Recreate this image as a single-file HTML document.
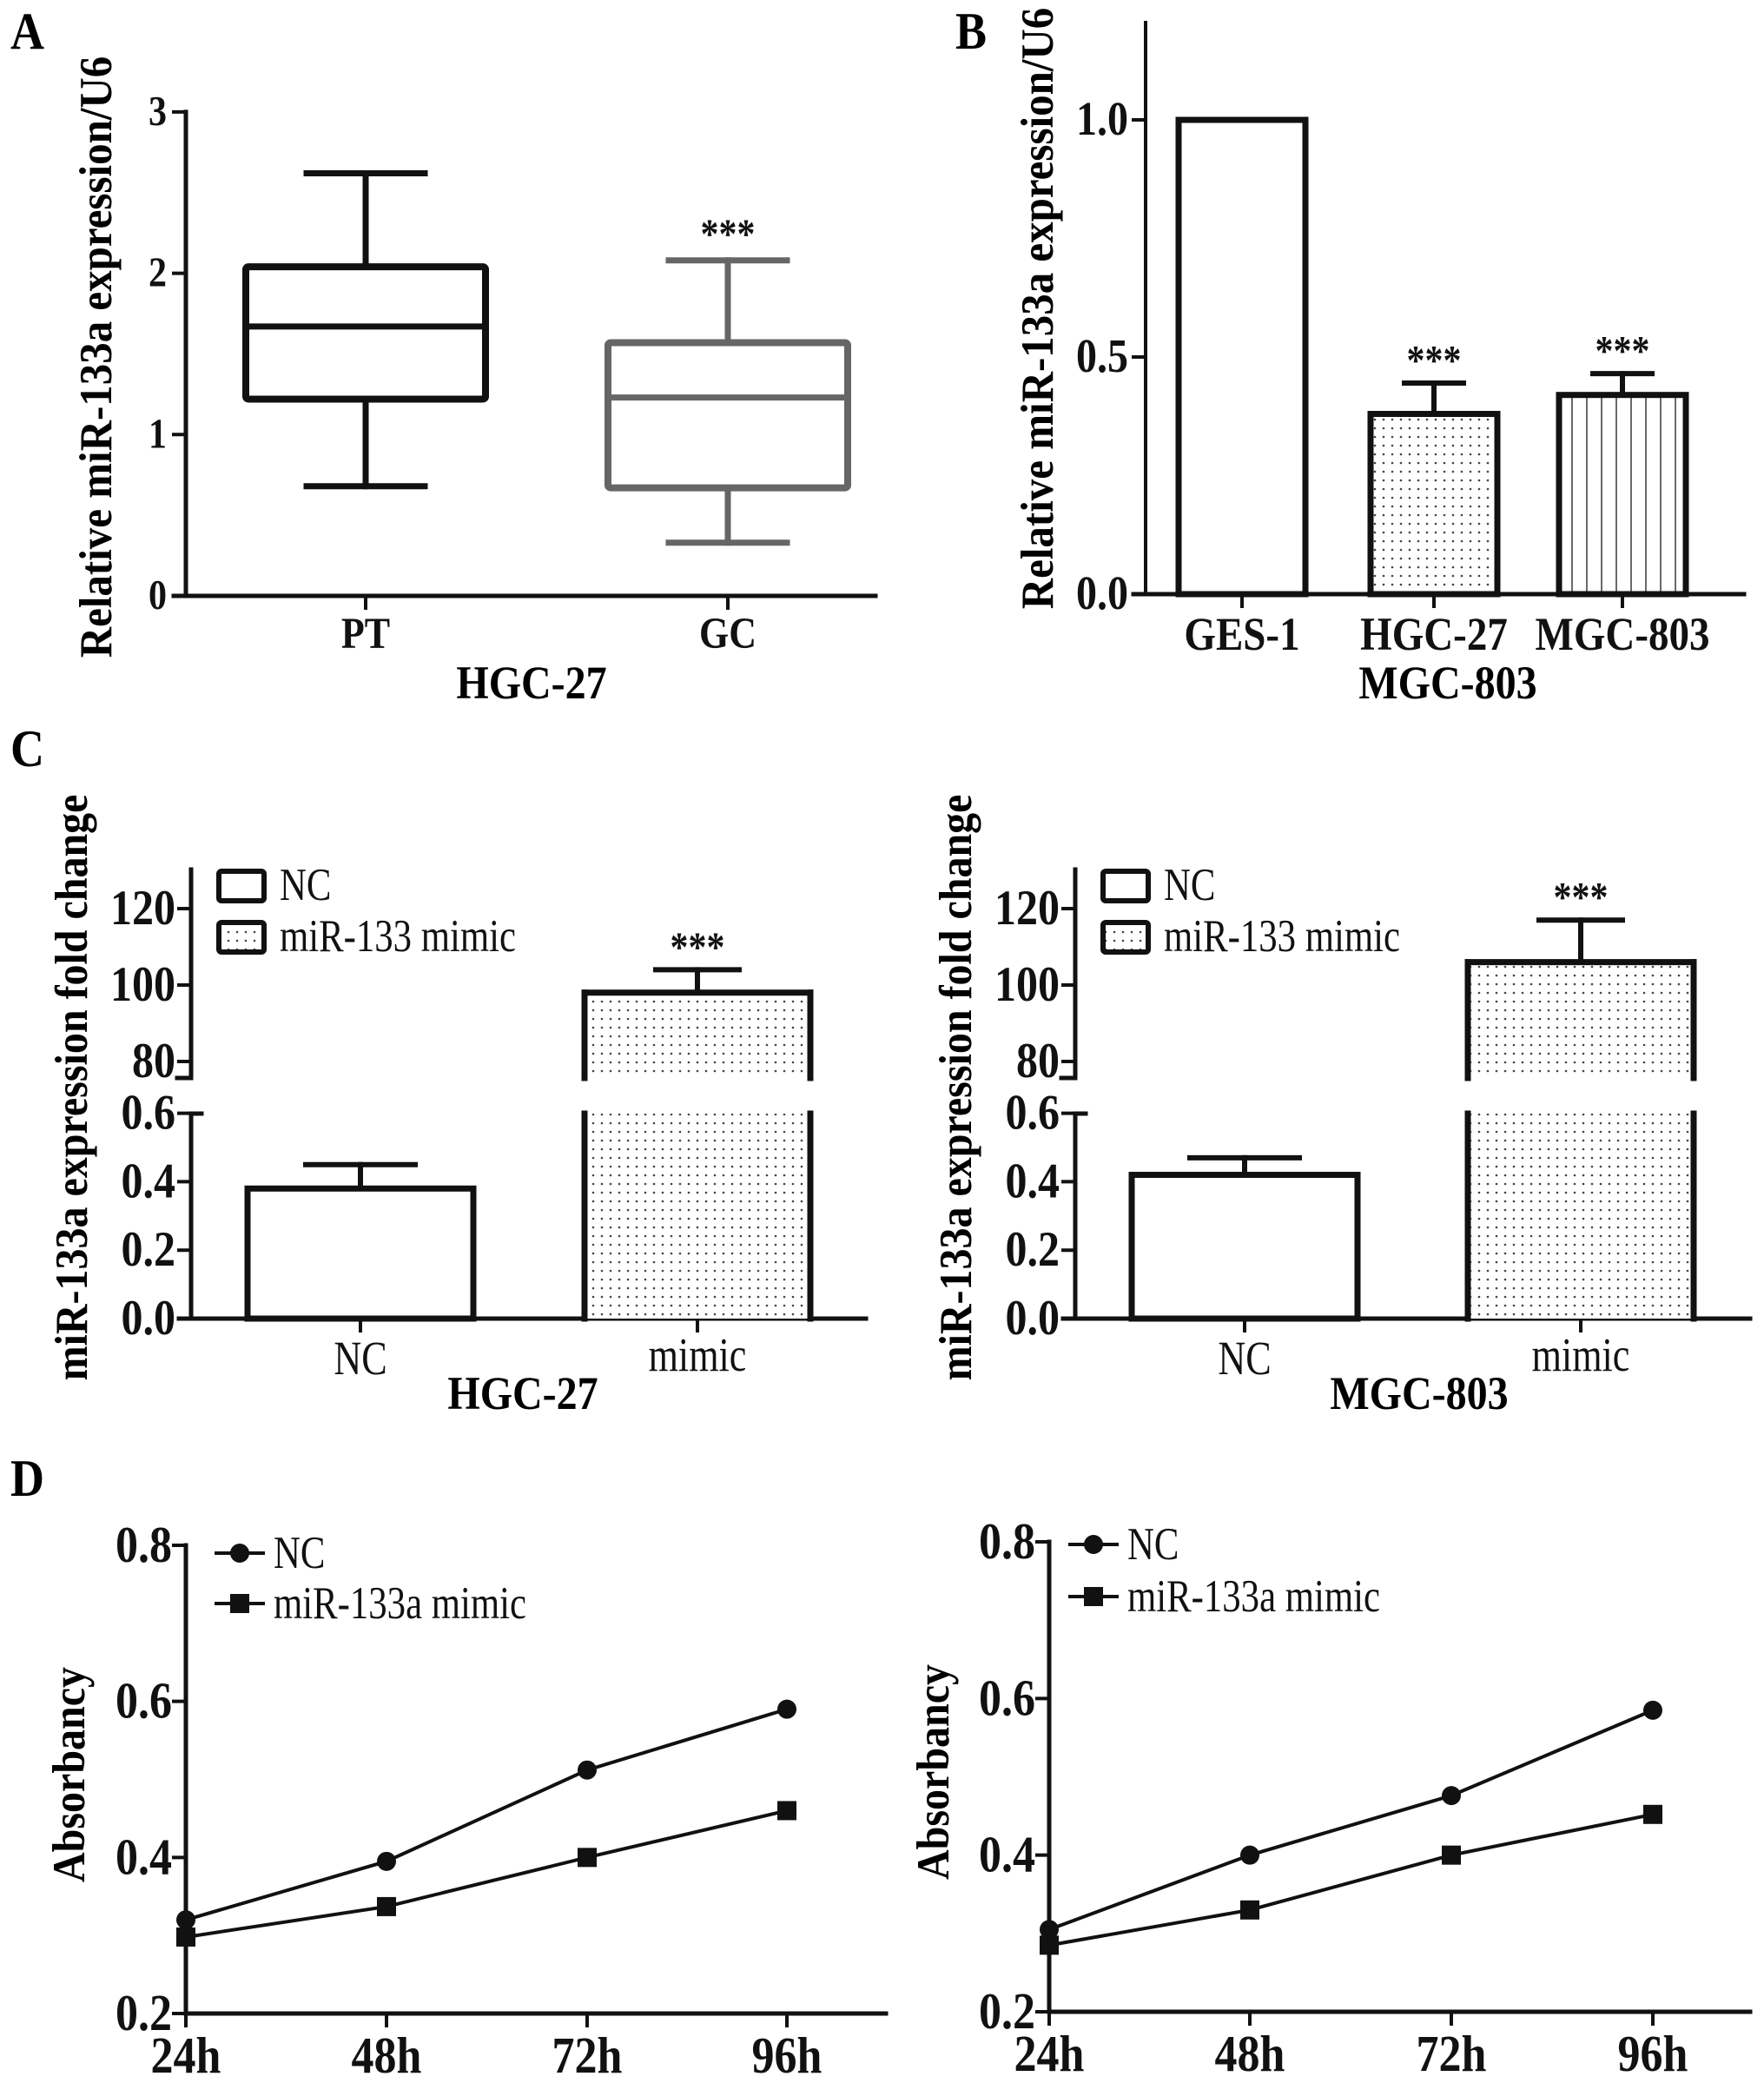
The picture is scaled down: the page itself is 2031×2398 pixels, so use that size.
<!DOCTYPE html>
<html><head><meta charset="utf-8">
<style>
html,body{margin:0;padding:0;background:#fff;}
svg{display:block;font-family:"Liberation Serif",serif;}
.b{font-weight:bold;}
</style></head>
<body>
<svg id="fig" width="2031" height="2398" viewBox="0 0 2031 2398" xmlns="http://www.w3.org/2000/svg">
<defs>
<pattern id="dots" width="10" height="10" patternUnits="userSpaceOnUse"><rect width="10" height="10" fill="#fff"/><circle cx="3" cy="3" r="1.3" fill="#444"/></pattern>
<pattern id="vlines" width="17" height="10" patternUnits="userSpaceOnUse"><rect width="17" height="10" fill="#fff"/><line x1="8" y1="0" x2="8" y2="10" stroke="#444" stroke-width="1.6"/></pattern>
</defs>
<text class="b" transform="translate(12,56) scale(1,1.12)" font-size="54">A</text>
<text class="b" transform="translate(1100,56) scale(1,1.12)" font-size="54">B</text>
<text class="b" transform="translate(12,882) scale(1,1.12)" font-size="54">C</text>
<text class="b" transform="translate(12,1722) scale(1,1.12)" font-size="54">D</text>

<text class="b" font-size="48" text-anchor="middle" transform="translate(128,411) rotate(-90) scale(1.02,1.1)">Relative miR-133a expression/U6</text>
<text class="b" font-size="48" text-anchor="middle" transform="translate(612,804) scale(1,1.12)">HGC-27</text>
<text class="b" font-size="48" text-anchor="middle" transform="translate(1212,355) rotate(-90) scale(1.02,1.1)">Relative miR-133a expression/U6</text>
<text class="b" font-size="48" text-anchor="middle" transform="translate(1667,804) scale(1,1.12)">MGC-803</text>
<text class="b" font-size="48" text-anchor="middle" transform="translate(100,1252) rotate(-90) scale(1.0,1.1)">miR-133a expression fold change</text>
<text class="b" font-size="48" text-anchor="middle" transform="translate(602,1622) scale(1,1.12)">HGC-27</text>
<text class="b" font-size="48" text-anchor="middle" transform="translate(1118,1252) rotate(-90) scale(1.0,1.1)">miR-133a expression fold change</text>
<text class="b" font-size="48" text-anchor="middle" transform="translate(1634,1622) scale(1,1.12)">MGC-803</text>
<text class="b" font-size="48" text-anchor="middle" transform="translate(97,2043) rotate(-90) scale(1.0,1.1)">Absorbancy</text>
<text class="b" font-size="48" text-anchor="middle" transform="translate(1092,2040) rotate(-90) scale(1.0,1.1)">Absorbancy</text>

<g id="plots"></g>
</svg>
<script>
// ---- Panel A (box plot) ----
const aCategories = ['PT', 'GC'];
const aWhiskerLow = [0.68, 0.33];
const aQ1 = [1.22, 0.67];
const aMedian = [1.67, 1.23];
const aQ3 = [2.04, 1.57];
const aWhiskerHigh = [2.62, 2.08];
const aTicks = [0, 1, 2, 3];
// ---- Panel B ----
const bCategories = ['GES-1', 'HGC-27', 'MGC-803'];
const bValues = [1.0, 0.38, 0.42];
const bErrors = [0, 0.065, 0.045];
const bStars = ['', '***', '***'];
const bTicks = ['0.0', '0.5', '1.0'];
// ---- Panel C ----
const cCategories = ['NC', 'mimic'];
const c1Values = [0.38, 98];
const c1Errors = [0.07, 6];
const c2Values = [0.42, 106];
const c2Errors = [0.05, 11];
const cLowerTicks = ['0.0', '0.2', '0.4', '0.6'];
const cUpperTicks = ['80', '100', '120'];
// ---- Panel D ----
const dTimes = ['24h', '48h', '72h', '96h'];
const d1NC = [0.32, 0.395, 0.512, 0.59];
const d1Mimic = [0.298, 0.337, 0.40, 0.46];
const d2NC = [0.305, 0.40, 0.476, 0.585];
const d2Mimic = [0.285, 0.33, 0.40, 0.452];
const dTicks = ['0.2', '0.4', '0.6', '0.8'];

const NS = 'http://www.w3.org/2000/svg';
const root = document.getElementById('plots');
function mk(tag, attrs, txt) {
  const e = document.createElementNS(NS, tag);
  for (const k in attrs) e.setAttribute(k, attrs[k]);
  if (txt !== undefined) e.textContent = txt;
  root.appendChild(e);
  return e;
}
function line(x1, y1, x2, y2, w, col, name) {
  const e = mk('line', {x1: x1, y1: y1, x2: x2, y2: y2, stroke: col || '#111', 'stroke-width': w || 5, 'stroke-linecap': 'square'});
  
  
  return e;
}
function label(x, y, s, size, anchor, bold, name, sx) {
  const e = mk('text', {transform: 'translate(' + x + ',' + y + ') scale(' + (sx || 1) + ',1.15)', 'font-size': size, 'text-anchor': anchor, 'font-weight': bold ? 'bold' : 'normal', fill: '#111'}, s);
  
  
  return e;
}

// ===== Panel A =====
(function () {
  const ax = 214, y0 = 686, k = 185.7;
  const y = v => y0 - v * k;
  const xs = [421, 838];
  line(ax, y(3), ax, y0, 5, '#111', 'a-y-axis');
  line(ax - 14, y0, 1008, y0, 5, '#111', 'a-x-axis');
  aTicks.forEach(t => {
    line(ax - 14, y(t), ax, y(t), 4, '#111', 'a-y-tick');
    label(ax - 22, y(t) + 15, String(t), 42, 'end', true, 'a-y-tick-label');
  });
  aCategories.forEach((c, i) => {
    const cx = xs[i], col = i === 0 ? '#111' : '#666', hw = 138, cw = 68;
    line(cx, y0, cx, y0 + 14, 4, '#111', 'a-x-tick');
    label(cx, 746, c, 44, 'middle', true, 'a-x-tick-label');
    line(cx, y(aWhiskerHigh[i]), cx, y(aQ3[i]), 7, col, 'a-whisker-high');
    line(cx, y(aWhiskerLow[i]), cx, y(aQ1[i]), 7, col, 'a-whisker-low');
    line(cx - cw, y(aWhiskerHigh[i]), cx + cw, y(aWhiskerHigh[i]), 7, col, 'a-cap-high');
    line(cx - cw, y(aWhiskerLow[i]), cx + cw, y(aWhiskerLow[i]), 7, col, 'a-cap-low');
    const r = mk('rect', {x: cx - hw, y: y(aQ3[i]), width: 2 * hw, height: y(aQ1[i]) - y(aQ3[i]), fill: 'none', stroke: col, 'stroke-width': 8, rx: 3});
    
    
    line(cx - hw, y(aMedian[i]), cx + hw, y(aMedian[i]), 7, col, 'a-median');
  });
  label(xs[1], y(aWhiskerHigh[1]) - 14, '***', 42, 'middle', true, 'a-significance');
})();

// ===== Panel B =====
(function () {
  const ax = 1319, y0 = 684, k = 546;
  const y = v => y0 - v * k;
  const xs = [1430, 1651, 1868], hw = 73;
  const fills = ['#fff', 'url(#dots)', 'url(#vlines)'];
  line(ax, 26, ax, y0, 4, '#111', 'b-y-axis');
  line(ax - 14, y0, 2008, y0, 5, '#111', 'b-x-axis');
  bTicks.forEach(t => {
    line(ax - 14, y(+t), ax, y(+t), 4, '#111', 'b-y-tick');
    label(ax - 20, y(+t) + 17, t, 48, 'end', true, 'b-y-tick-label');
  });
  bCategories.forEach((c, i) => {
    const cx = xs[i];
    line(cx, y0, cx, y0 + 14, 4, '#111', 'b-x-tick');
    label(cx, 748, c, 47, 'middle', true, 'b-x-tick-label');
    if (bErrors[i] > 0) {
      line(cx, y(bValues[i] + bErrors[i]), cx, y(bValues[i]), 6, '#111', 'b-error-bar');
      line(cx - 34, y(bValues[i] + bErrors[i]), cx + 34, y(bValues[i] + bErrors[i]), 6, '#111', 'b-error-cap');
    }
    const r = mk('rect', {x: cx - hw, y: y(bValues[i]), width: 2 * hw, height: y0 - y(bValues[i]), fill: fills[i], stroke: '#111', 'stroke-width': 7});
    
    
    if (bStars[i]) label(cx, y(bValues[i] + bErrors[i]) - 10, bStars[i], 42, 'middle', true, 'b-significance');
  });
})();

// ===== Panel C =====
function panelC(ax, xs, vals, errs, xEnd, pfx) {
  const y0 = 1518;
  const yl = v => y0 - v * 394;
  const yu = v => 1134 - (v - 100) * 4.4;
  const upTop = 1001, upBot = 1241, loTop = 1282, hw = 130;
  line(ax, upTop, ax, upBot, 5, '#111', pfx + '-y-axis-upper');
  line(ax - 16, upBot, ax, upBot, 5, '#111', pfx + '-axis-break');
  line(ax, loTop, ax, y0, 5, '#111', pfx + '-y-axis-lower');
  line(ax, loTop, ax + 12, loTop, 5, '#111', pfx + '-axis-break-lower');
  line(ax - 14, y0, xEnd, y0, 5, '#111', pfx + '-x-axis');
  cLowerTicks.forEach(t => {
    line(ax - 14, yl(+t), ax, yl(+t), 4, '#111', pfx + '-y-tick');
    label(ax - 18, yl(+t) + 18, t, 50, 'end', true, pfx + '-y-tick-label');
  });
  cUpperTicks.forEach(t => {
    line(ax - 14, yu(+t), ax, yu(+t), 4, '#111', pfx + '-y-tick-upper');
    label(ax - 18, yu(+t) + 18, t, 50, 'end', true, pfx + '-y-tick-label-upper');
  });
  cCategories.forEach((c, i) => {
    const cx = xs[i];
    line(cx, y0, cx, y0 + 14, 4, '#111', pfx + '-x-tick');
    label(cx, c === 'NC' ? 1582 : 1578, c, 48, 'middle', false, pfx + '-x-tick-label', 0.92);
  });
  const nx = xs[0];
  line(nx, yl(vals[0] + errs[0]), nx, yl(vals[0]), 6, '#111', pfx + '-nc-error-bar');
  line(nx - 63, yl(vals[0] + errs[0]), nx + 63, yl(vals[0] + errs[0]), 6, '#111', pfx + '-nc-error-cap');
  const r1 = mk('rect', {x: nx - hw, y: yl(vals[0]), width: 2 * hw, height: y0 - yl(vals[0]), fill: '#fff', stroke: '#111', 'stroke-width': 7});
  
  
  const mx = xs[1];
  line(mx, yu(vals[1] + errs[1]), mx, yu(vals[1]), 6, '#111', pfx + '-mimic-error-bar');
  line(mx - 48, yu(vals[1] + errs[1]), mx + 48, yu(vals[1] + errs[1]), 6, '#111', pfx + '-mimic-error-cap');
  const r2 = mk('rect', {x: mx - hw, y: yu(vals[1]), width: 2 * hw, height: upBot - yu(vals[1]), fill: 'url(#dots)'});
  
  
  const r3 = mk('rect', {x: mx - hw, y: loTop, width: 2 * hw, height: y0 - loTop, fill: 'url(#dots)'});
  
  
  line(mx - hw, yu(vals[1]), mx + hw, yu(vals[1]), 7, '#111', pfx + '-bar-mimic-top');
  line(mx - hw, yu(vals[1]), mx - hw, upBot, 7, '#111', pfx + '-bar-mimic-edge');
  line(mx + hw, yu(vals[1]), mx + hw, upBot, 7, '#111', pfx + '-bar-mimic-edge');
  line(mx - hw, loTop, mx - hw, y0, 7, '#111', pfx + '-bar-mimic-edge');
  line(mx + hw, loTop, mx + hw, y0, 7, '#111', pfx + '-bar-mimic-edge');
  label(mx, yu(vals[1] + errs[1]) - 10, '***', 42, 'middle', true, pfx + '-significance');
  const lx = ax + 32;
  const l1 = mk('rect', {x: lx, y: 1003, width: 52, height: 34, fill: '#fff', stroke: '#111', 'stroke-width': 6, rx: 3});
  
  
  const l2 = mk('rect', {x: lx, y: 1062, width: 52, height: 34, fill: 'url(#dots)', stroke: '#111', 'stroke-width': 6, rx: 3});
  
  
  label(lx + 70, 1036, 'NC', 46, 'start', false, pfx + '-legend-label-nc', 0.93);
  label(lx + 70, 1095, 'miR-133 mimic', 46, 'start', false, pfx + '-legend-label-mimic', 0.93);
}
panelC(220, [415, 803], c1Values, c1Errors, 997, 'c1');
panelC(1238, [1433, 1820], c2Values, c2Errors, 2015, 'c2');

// ===== Panel D =====
function panelD(ax, xs, y08, y02, nc, mim, xEnd, pfx) {
  const k = (y02 - y08) / 0.6;
  const y = v => y02 - (v - 0.2) * k;
  line(ax, y08, ax, y02, 5, '#111', pfx + '-y-axis');
  line(ax, y02, xEnd, y02, 5, '#111', pfx + '-x-axis');
  dTicks.forEach(t => {
    line(ax - 14, y(+t), ax, y(+t), 4, '#111', pfx + '-y-tick');
    label(ax - 16, y(+t) + 19, t, 52, 'end', true, pfx + '-y-tick-label');
  });
  dTimes.forEach((t, i) => {
    line(xs[i], y02, xs[i], y02 + 14, 4, '#111', pfx + '-x-tick');
    label(xs[i], y02 + 68, t, 52, 'middle', true, pfx + '-x-tick-label');
  });
  const p1 = mk('polyline', {points: nc.map((v, i) => xs[i] + ',' + y(v)).join(' '), fill: 'none', stroke: '#111', 'stroke-width': 4});
  
  
  const p2 = mk('polyline', {points: mim.map((v, i) => xs[i] + ',' + y(v)).join(' '), fill: 'none', stroke: '#111', 'stroke-width': 4});
  
  
  nc.forEach((v, i) => {
    const c = mk('circle', {cx: xs[i], cy: y(v), r: 11, fill: '#111'});
    
    
  });
  mim.forEach((v, i) => {
    const s = mk('rect', {x: xs[i] - 11, y: y(v) - 11, width: 22, height: 22, fill: '#111'});
    
    
  });
}
panelD(214, [214, 445, 676, 906], 1779, 2318, d1NC, d1Mimic, 1020, 'd1');
panelD(1208, [1208, 1439, 1671, 1903], 1775, 2316, d2NC, d2Mimic, 2015, 'd2');

function legendD(x, yNC, yM, pfx) {
  line(x, yNC, x + 54, yNC, 4, '#111', pfx + '-legend-line-nc');
  const c = mk('circle', {cx: x + 27, cy: yNC, r: 11, fill: '#111'});
  
  
  line(x, yM, x + 54, yM, 4, '#111', pfx + '-legend-line-mimic');
  const s = mk('rect', {x: x + 16, y: yM - 11, width: 22, height: 22, fill: '#111'});
  
  
  label(x + 66, yNC + 17, 'NC', 46, 'start', false, pfx + '-legend-label-nc', 0.93);
  label(x + 66, yM + 17, 'miR-133a mimic', 46, 'start', false, pfx + '-legend-label-mimic', 0.93);
}
legendD(249, 1788, 1846, 'd1');
legendD(1232, 1778, 1838, 'd2');
</script>
</body></html>
